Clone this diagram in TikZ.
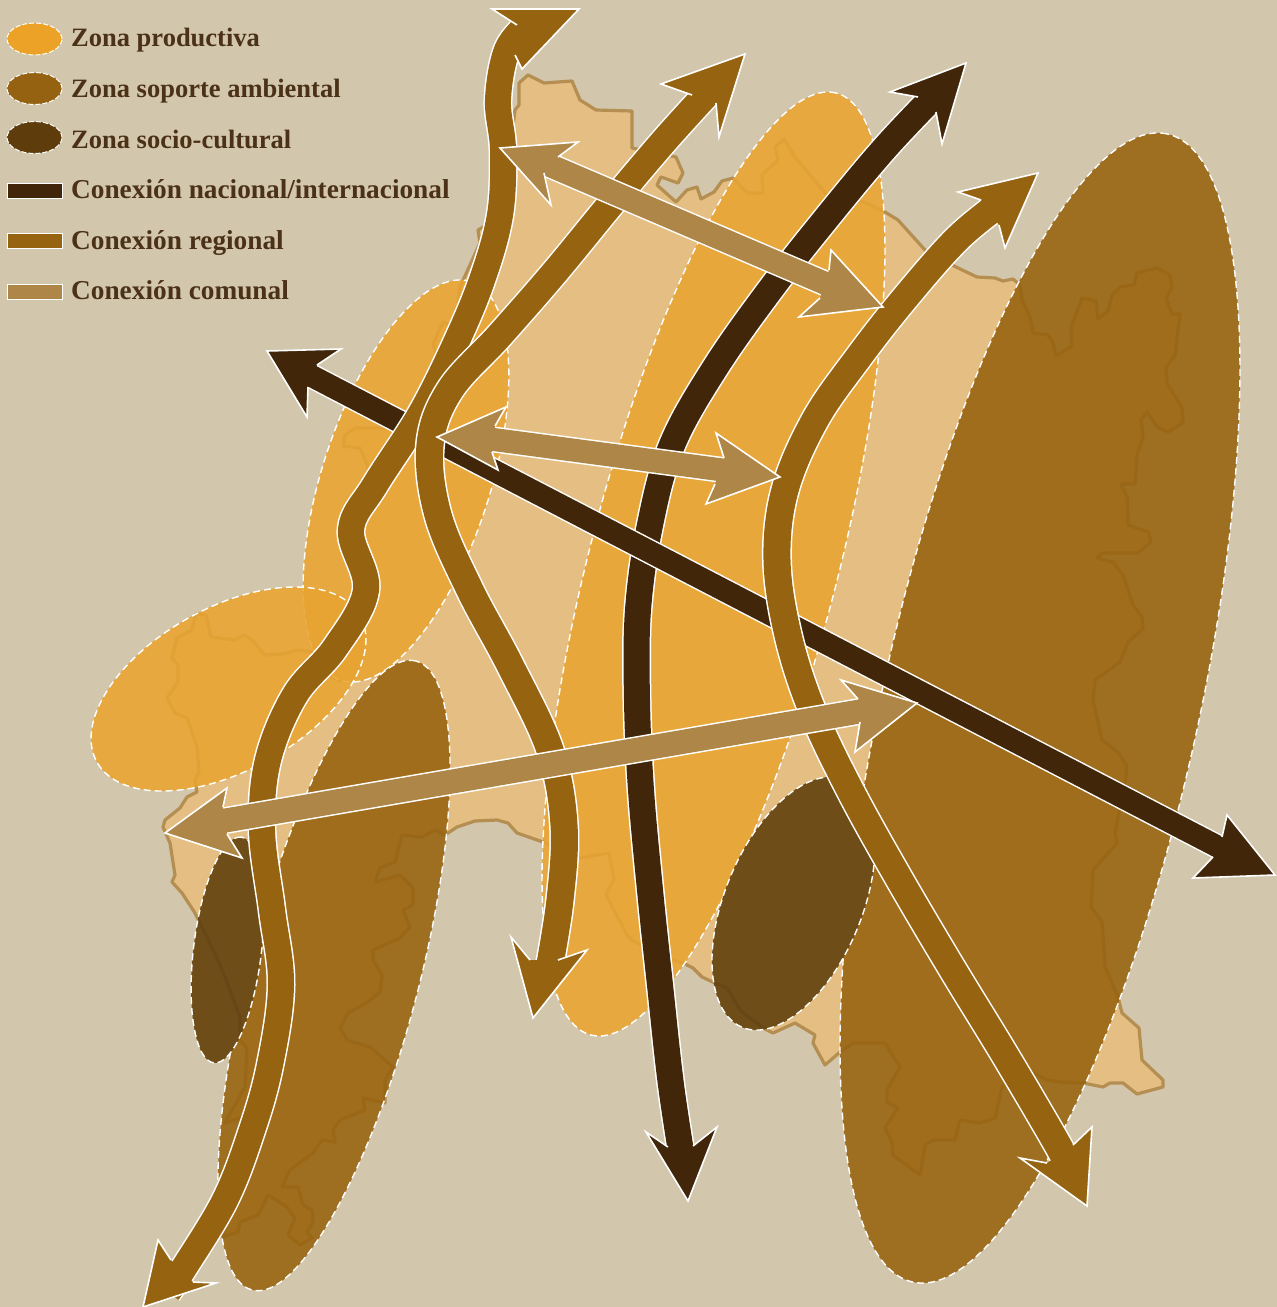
\documentclass[tikz,border=0pt]{standalone}
\usepackage{fontspec}
\setmainfont{Liberation Serif}
\definecolor{bgc}{HTML}{D2C6AC}
\definecolor{mapc}{HTML}{E4BE82}
\definecolor{mapl}{HTML}{B58E52}
\definecolor{prodc}{HTML}{EBA226}
\definecolor{prodz}{HTML}{E9A431}
\definecolor{sopc}{HTML}{946210}
\definecolor{sopz}{HTML}{97620E}
\definecolor{socc}{HTML}{5E3C0B}
\definecolor{socz}{HTML}{6E4D18}
\definecolor{natc}{HTML}{412609}
\definecolor{regc}{HTML}{966410}
\definecolor{comc}{HTML}{AE8647}
\definecolor{txtc}{HTML}{4B3117}
\tikzset{zonedash/.style={draw=white,line width=1.4pt,dash pattern=on 7pt off 4pt}}
\newcommand{\zonefig}[6]{\draw[zonedash,fill=#1,fill opacity=.88,shift={(#2,#3)},rotate=#6] (0,0) ellipse (#4pt and #5pt);}
\newcommand{\soczone}[5]{%
 \begin{scope}
 \path[clip,shift={(#1,#2)},rotate=#5] (0,0) ellipse (#3pt and #4pt);
 \fill[socz] (0,0) rectangle (1277,1307);
 \draw[use path=\mappath,draw=natc,opacity=.14,line width=3.2pt,line join=round];
 \end{scope}
 \draw[zonedash,shift={(#1,#2)},rotate=#5] (0,0) ellipse (#3pt and #4pt);}
\newcommand{\shaft}[3]{%
 \draw[white,line width=#2pt+3pt] plot[smooth,tension=.6] coordinates {#3};
 \draw[#1,line width=#2pt] plot[smooth,tension=.6] coordinates {#3};}
\newcommand{\headfig}[2]{\filldraw[fill=#1,draw=white,line width=1.6pt,line join=miter,miter limit=8] plot coordinates {#2};}
\tikzset{lgtext/.style={anchor=base west,inner sep=0pt,text=txtc,font=\fontsize{27.3}{30}\selectfont\bfseries},
 lgzona/.style={anchor=base west,inner sep=0pt,text=txtc,font=\fontsize{26.5}{30}\selectfont\bfseries},
 swatch/.style={draw=white,line width=1pt},
 lgzone/.style={draw=white,line width=1pt,dash pattern=on 5pt off 2pt}}
\begin{document}
\begin{tikzpicture}[x=1pt,y=-1pt]
\useasboundingbox (0,0) rectangle (1277,1307);
\fill[bgc] (0,0) rectangle (1277,1307);
\filldraw[save path=\mappath,fill=mapc,draw=mapl,line width=3.2pt,line join=round] plot coordinates {(528,75)(544,83)(572,81)(580,100)(596,110)(632,111)(632,148)(676,157)(683,173)(678,183)(661,177)(657,185)(676,202)(687,190)(697,187)(701,199)(714,192)(722,181)(733,178)(747,193)(763,193)(762,175)(778,160)(775,147)(784,139)(795,157)(827,195)(864,202)(885,212)(898,220)(925,250)(956,267)(977,277)(995,278)(1003,281)(1013,279)(1020,285)(1022,300)(1030,317)(1033,333)(1048,335)(1053,343)(1056,356)(1072,346)(1071,327)(1082,298)(1096,301)(1098,319)(1108,311)(1112,295)(1120,287)(1134,285)(1137,273)(1157,268)(1170,275)(1172,288)(1166,298)(1172,314)(1180,314)(1175,355)(1166,368)(1167,383)(1182,408)(1183,423)(1168,432)(1157,427)(1147,412)(1141,420)(1143,437)(1137,455)(1135,484)(1121,484)(1127,497)(1128,525)(1148,532)(1151,542)(1138,553)(1102,553)(1097,558)(1113,562)(1123,575)(1133,605)(1142,617)(1143,629)(1128,642)(1120,662)(1095,680)(1093,700)(1102,740)(1118,752)(1127,767)(1125,783)(1115,833)(1117,843)(1093,870)(1091,907)(1102,922)(1105,967)(1118,997)(1122,1013)(1139,1028)(1142,1060)(1163,1080)(1163,1087)(1137,1094)(1123,1083)(1110,1083)(1103,1087)(1083,1083)(1060,1082)(1047,1080)(1027,1070)(1002,1087)(995,1118)(980,1123)(960,1120)(955,1140)(933,1140)(925,1145)(920,1175)(893,1155)(892,1142)(885,1128)(898,1108)(887,1102)(887,1090)(900,1067)(885,1043)(860,1043)(853,1043)(840,1052)(825,1065)(813,1043)(815,1035)(795,1023)(773,1033)(763,1028)(740,1010)(727,988)(715,983)(702,977)(693,968)(683,963)(673,960)(650,950)(632,940)(627,935)(606,895)(614,879)(609,853)(580,858)(543,842)(517,833)(508,823)(497,820)(475,821)(457,827)(445,835)(435,830)(422,837)(402,835)(395,862)(380,868)(375,882)(400,875)(413,888)(413,905)(403,910)(410,927)(400,938)(373,950)(373,960)(382,975)(380,992)(368,1002)(348,1013)(340,1028)(347,1040)(370,1047)(393,1067)(385,1080)(385,1103)(363,1098)(365,1110)(340,1120)(333,1130)(335,1142)(322,1140)(313,1153)(290,1170)(282,1187)(298,1187)(303,1205)(312,1210)(313,1222)(307,1232)(312,1238)(300,1245)(288,1235)(295,1218)(287,1207)(268,1195)(258,1215)(240,1222)(238,1232)(222,1237)(240,1180)(243,1117)(225,1123)(245,1087)(247,1048)(240,1040)(240,1017)(225,977)(218,960)(195,913)(182,893)(172,882)(175,875)(170,843)(163,827)(165,820)(180,808)(187,797)(197,792)(195,780)(199,772)(197,747)(187,718)(175,713)(167,698)(178,682)(178,665)(172,658)(177,638)(192,630)(196,614)(206,615)(211,637)(235,640)(244,635)(252,640)(265,655)(283,654)(298,650)(313,652)(322,672)(340,681)(347,663)(360,600)(360,530)(368,467)(360,448)(343,446)(345,435)(355,428)(380,428)(397,430)(420,400)(438,362)(433,344)(443,322)(455,327)(460,287)(480,243)(478,230)(487,225)(505,170)(511,143)(515,110)(519,105)(519,83)(528,75)} -- cycle;
% zones
\zonefig{prodz}{406}{481}{209.6}{84}{72}
\zonefig{prodz}{228.5}{689}{150.5}{81.5}{29}
\zonefig{prodz}{713.5}{564}{486.7}{123.8}{75.4}
\zonefig{sopz}{334}{975.5}{325}{85}{75.4}
\zonefig{sopz}{1040}{708}{588}{158}{77.5}
\soczone{227.5}{950}{113.7}{34}{83.1}
\soczone{793.5}{903.5}{134}{68.6}{67.5}
% national
\shaft{natc}{26}{(940,90)(885,148)(825,220)(770,290)(715,368)(672,445)(650,525)(638,610)(637,700)(641,790)(650,890)(660,985)(671,1085)(684,1170)}
\headfig{natc}{(918,97)(890,92)(966,63)(942,144)(936,112)}
\headfig{natc}{(668,1147)(646,1132)(688,1201)(717,1127)(693,1146)}
\shaft{natc}{22}{(300,370)(1230,853)}
\headfig{natc}{(317,365)(341,349)(267,351)(307,417)(308,387)}
\headfig{natc}{(1222,837)(1227,815)(1275,875)(1193,878)(1213,857)}
% regional
\shaft{regc}{26}{(528,24)(507,50)(498,100)(503,150)(500,215)(482,280)(455,345)(420,415)(375,485)(351,530)(366,590)(335,648)(295,695)(268,760)(262,830)(272,910)(281,985)(270,1065)(252,1130)(225,1200)(182,1271)(168,1292)}
\headfig{regc}{(517,25)(492,9)(579,9)(522,69)(515,55)}
\headfig{regc}{(171,1260)(158,1240)(143,1307)(216,1283)(193,1282)}
\shaft{regc}{27}{(715,85)(665,140)(610,205)(555,272)(500,335)(450,390)(430,445)(438,515)(470,590)(510,665)(550,750)(564,825)(560,900)(548,975)}
\headfig{regc}{(692,95)(661,84)(745,54)(719,137)(716,103)}
\headfig{regc}{(530,960)(511,937)(533,1018)(587,950)(558,960)}
\shaft{regc}{27}{(1005,200)(958,238)(905,298)(858,358)(815,420)(785,490)(777,560)(788,635)(812,710)(850,790)(897,875)(950,965)(1005,1055)(1055,1140)(1072,1172)}
\headfig{regc}{(981,200)(958,192)(1038,173)(1005,248)(999,225)}
\headfig{regc}{(1047,1163)(1020,1158)(1087,1206)(1092,1127)(1073,1145)}
% communal
\shaft{comc}{23}{(530,157)(850,294)}
\headfig{comc}{(558,157)(578,142)(500,148)(551,205)(544,173)}
\headfig{comc}{(829,270)(831,250)(883,307)(799,317)(820,298)}
\shaft{comc}{23}{(475,437)(745,473)}
\headfig{comc}{(495,426)(506,407)(437,437)(498,470)(492,452)}
\headfig{comc}{(724,458)(716,433)(780,477)(706,504)(715,484)}
\shaft{comc}{24}{(205,824)(880,708)}
\headfig{comc}{(223,807)(227,788)(165,833)(242,858)(227,834)}
\headfig{comc}{(858,699)(841,680)(917,703)(855,752)(860,722)}
% legend
\draw[lgzone,fill=prodc] (34.5,39) ellipse (27.5pt and 16pt);
\draw[lgzone,fill=sopc] (34.5,88.5) ellipse (27.5pt and 16pt);
\draw[lgzone,fill=socc] (34.5,137.5) ellipse (27.5pt and 16pt);
\draw[swatch,fill=natc] (7.5,183.5) rectangle (62,198);
\draw[swatch,fill=regc] (7.5,233.5) rectangle (62,248);
\draw[swatch,fill=comc] (7.5,284.5) rectangle (62,299);
\node[lgzona] (l1) at (71,46.5) {Zona productiva};
\node[lgzona] (l2) at (71,97.5) {Zona soporte ambiental};
\node[lgzona] (l3) at (71,148) {Zona socio-cultural};
\node[lgtext] (l4) at (71,198.5) {Conexión nacional/internacional};
\node[lgtext] (l5) at (71,249) {Conexión regional};
\node[lgtext] (l6) at (71,299) {Conexión comunal};
\end{tikzpicture}
\end{document}
